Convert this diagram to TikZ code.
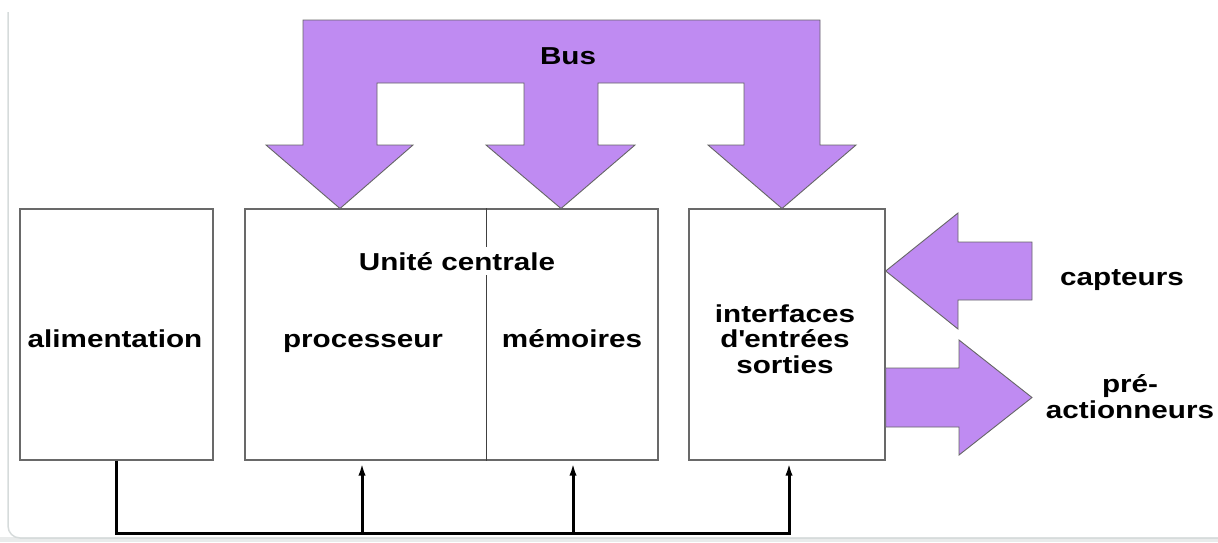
\documentclass[tikz,border=0pt]{standalone}
\usepackage{fontspec}
\setmainfont{Liberation Sans}[FakeStretch=1.21]
\usetikzlibrary{arrows.meta}
\definecolor{buspurple}{RGB}{191,139,242}
\definecolor{framegray}{RGB}{214,219,219}
\definecolor{boxgray}{RGB}{105,105,105}

\begin{document}
\begin{tikzpicture}[x=1pt,y=-1pt,
  lbl/.style={font=\fontsize{24.5}{25.5}\selectfont\bfseries, align=center, inner sep=0pt},
  unit/.style={draw=boxgray, line width=1.4pt, minimum height=251pt, inner sep=0pt},
  divider/.style={draw=black!75, line width=1pt},
  fat/.style={fill=buspurple, draw=black!60, line width=0.9pt, line join=miter},
  power/.style={line width=3pt, line join=miter},
  feed/.style={power, -{Latex[length=15pt,width=7pt]}}]

\useasboundingbox (0,0) rectangle (1218,542);

% card frame
\fill[framegray!55] (0,537) rectangle (1218,542);
\draw[framegray, line width=1.5pt, rounded corners=12pt] (8,12) -- (8,538) -- (1218,538);

% functional blocks
\node[unit, minimum width=193pt] (alim) at (116.5,334.5) {};
\node[unit, minimum width=413pt] (uc)   at (451.5,334.5) {};
\node[unit, minimum width=196pt] (io)   at (787,334.5) {};

% split between processor and memories
\coordinate (split) at (486,334.5);
\draw[divider] (split |- uc.north) -- (split |- uc.south);

% block labels
\node[lbl, anchor=base] (alimtxt) at (115,347) {alimentation};
\node[lbl, anchor=base, fill=white, inner xsep=4pt, inner ysep=5pt] (uctxt) at (457,270) {Unité centrale};
\node[lbl, anchor=base] (proctxt) at (363,347) {processeur};
\node[lbl, anchor=base] (memtxt) at (572,347) {mémoires};
\node[lbl] (iotxt) at (785,339) {interfaces\\d\textquotesingle entrées\\sorties};

% system bus with its three branches
\path[fat] (303,20) -- (820,20) -- (820,145) -- (856,145) -- (782,208.5)
  -- (708,145) -- (744,145) -- (744,83) -- (598,83) -- (598,145) -- (635,145)
  -- (561,208.5) -- (486,145) -- (524,145) -- (524,83) -- (377,83) -- (377,145)
  -- (413,145) -- (340,208.5) -- (266,145) -- (303,145) -- cycle;
\node[lbl, anchor=base] (bustxt) at (568,64) {Bus};

% sensors in, actuators out
\path[fat] (io.east |- 0,271) -- (958,213) -- (958,242) -- (1032,242) -- (1032,300)
  -- (958,300) -- (958,329) -- cycle;
\path[fat] (io.east |- 0,368) -- (959,368) -- (959,340) -- (1032,397.5) -- (959,455)
  -- (959,427) -- (io.east |- 0,427) -- cycle;
\node[lbl, anchor=base] (captxt) at (1122,285) {capteurs};
\node[lbl] (acttxt) at (1130,396.5) {pré-\\actionneurs};

% power distribution
\coordinate (p1) at (362,533);
\coordinate (p2) at (573,533);
\coordinate (p3) at (789,533);
\draw[feed] (alim.south) |- (p3) -- (p3 |- io.south);
\draw[feed] (p1) -- (p1 |- uc.south);
\draw[feed] (p2) -- (p2 |- uc.south);
\end{tikzpicture}
\end{document}
